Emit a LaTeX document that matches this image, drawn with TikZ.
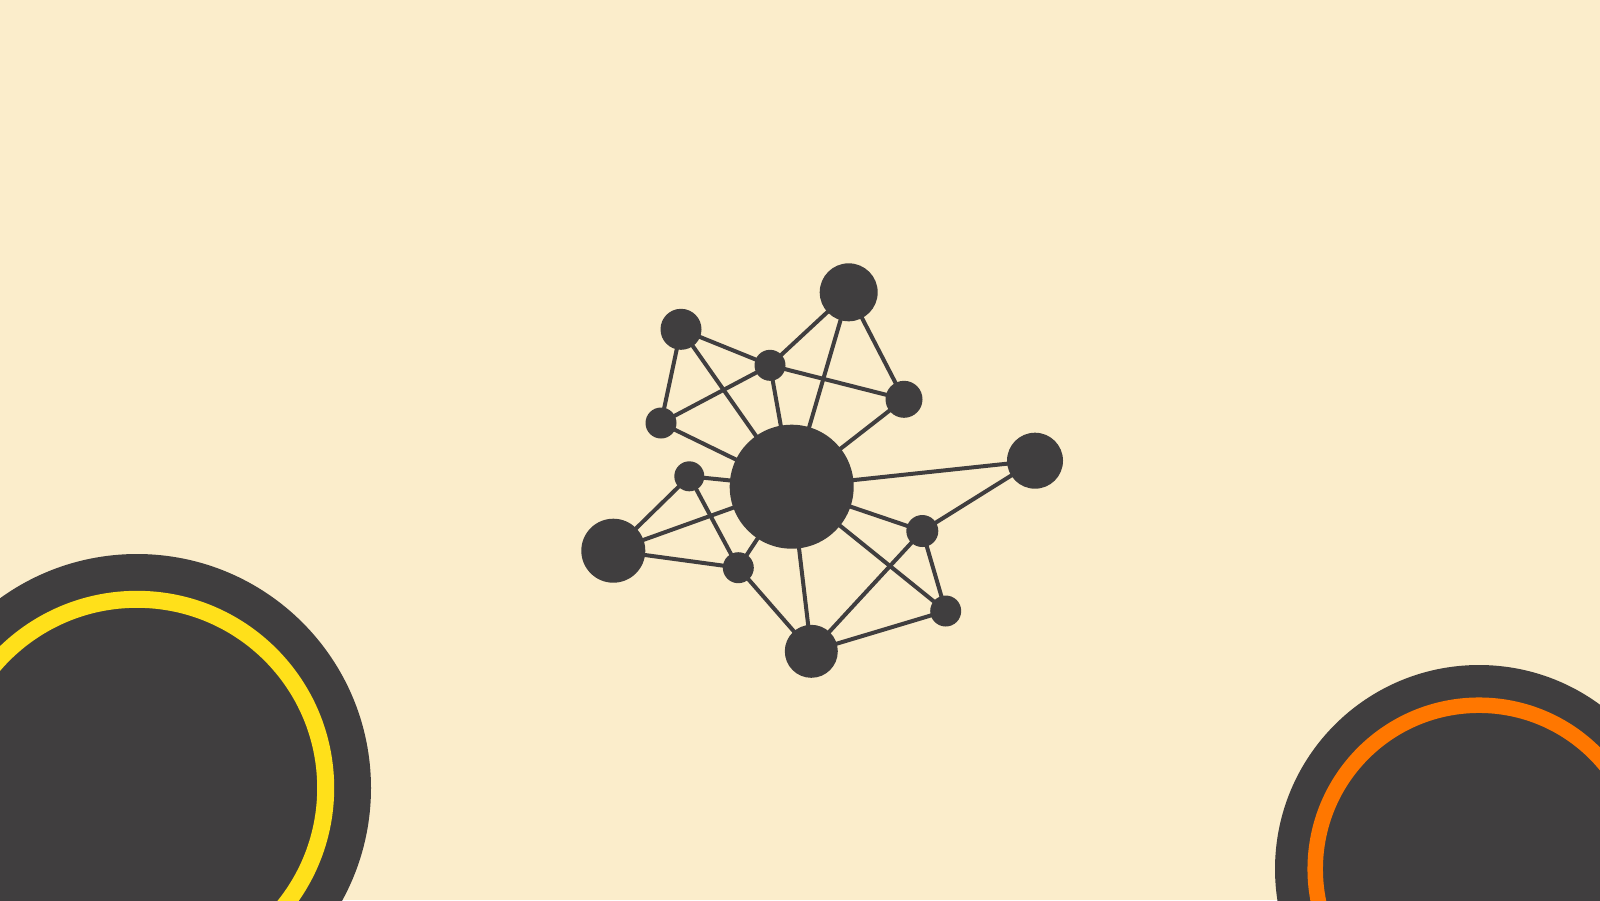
\documentclass[tikz,border=0pt]{standalone}
\usetikzlibrary{backgrounds}
\definecolor{bgcream}{RGB}{251,237,203}
\definecolor{darkgrey}{RGB}{64,62,63}
\definecolor{ringyellow}{RGB}{255,224,26}
\definecolor{ringorange}{RGB}{255,119,0}
\tikzset{
  dot/.style={circle, fill=darkgrey, draw=none, inner sep=0pt, minimum size=#1},
  link/.style={draw=darkgrey, line width=4pt, shorten <=-2pt, shorten >=-2pt}
}
\begin{document}
\begin{tikzpicture}[x=1pt,y=-1pt]
\fill[bgcream] (0,0) rectangle (1600,900);
\useasboundingbox (0,0) rectangle (1600,900);
% corner discs
\begin{scope}
\clip (0,0) rectangle (1600,900);
\fill[darkgrey] (137,788) circle[radius=234];
\draw[ringyellow, line width=17pt] (137,788) circle[radius=188.7];
\fill[darkgrey] (1479,869) circle[radius=204];
\draw[ringorange, line width=15.5pt] (1479,869) circle[radius=163.8];
\end{scope}
% network nodes
\node[dot=124pt] (C)  at (791.7,486.7) {};
\node[dot=58pt]  (T1) at (848.7,292.3) {};
\node[dot=41pt]  (TL) at (681,329.3) {};
\node[dot=31pt]  (H)  at (770,365.3) {};
\node[dot=37pt]  (R1) at (904,399.3) {};
\node[dot=31pt]  (L1) at (661,423) {};
\node[dot=56pt]  (FR) at (1035,460.7) {};
\node[dot=30pt]  (L2) at (689.3,476.3) {};
\node[dot=64pt]  (BL) at (613.3,550.7) {};
\node[dot=31pt]  (LS) at (738.3,567.7) {};
\node[dot=32pt]  (RS) at (922.3,531) {};
\node[dot=31pt]  (LR) at (945.7,611) {};
\node[dot=53pt]  (B)  at (811.3,651.3) {};
% links
\foreach \a/\b in {TL/H, TL/L1, TL/C, H/T1, H/L1, H/R1, H/C, T1/C, T1/R1, R1/C,
  L1/C, L2/C, L2/BL, L2/LS, BL/C, BL/LS, LS/C, LS/B, C/B, C/FR, C/RS, C/LR,
  FR/RS, RS/B, RS/LR, B/LR}
  \path[link] (\a) -- (\b);
\end{tikzpicture}
\end{document}
